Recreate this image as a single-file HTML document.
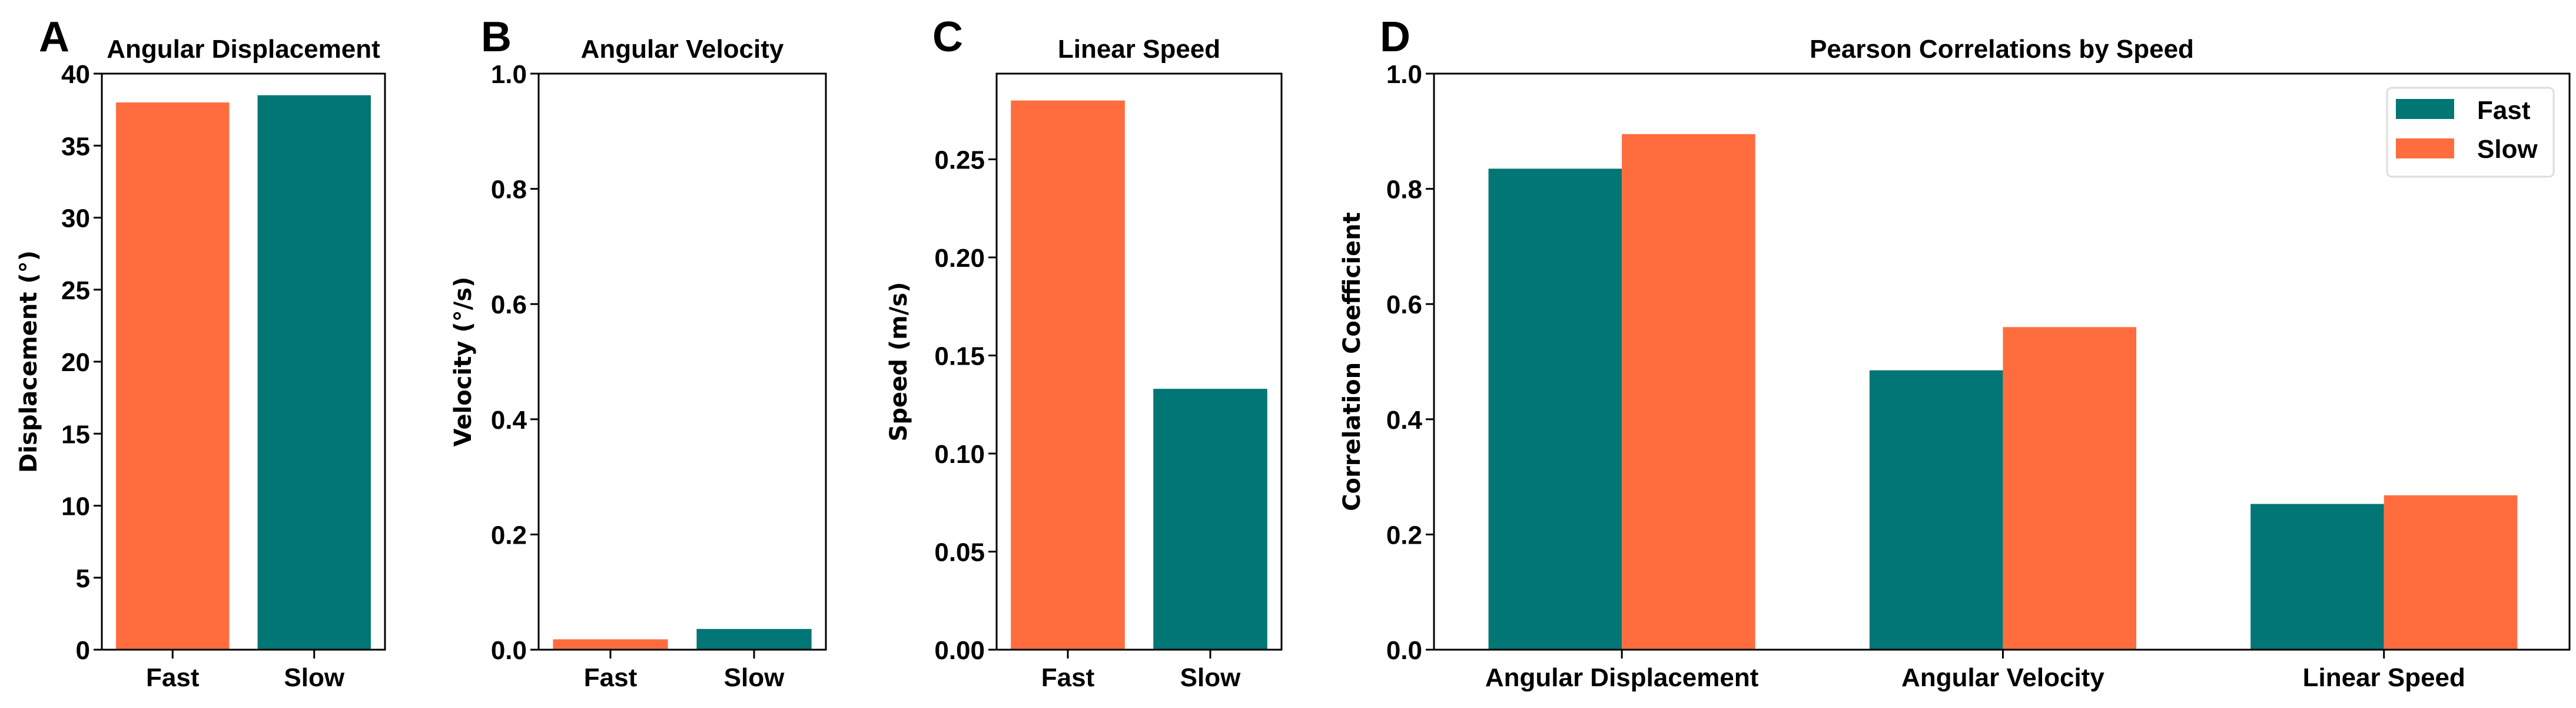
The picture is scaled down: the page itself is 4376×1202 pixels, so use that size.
<!DOCTYPE html>
<html><head><meta charset="utf-8"><style>
html,body{margin:0;padding:0;background:#fff;}
svg{display:block;}
text{font-family:"Liberation Sans",Arial,sans-serif;font-weight:bold;fill:#000;}
.yl{font-family:"DejaVu Sans","Liberation Sans",sans-serif;}
</style></head><body>
<svg id="fig" width="4376" height="1202" viewBox="0 0 4376 1202" xmlns="http://www.w3.org/2000/svg"></svg>
<script>
const ORANGE = "#FF6D3F", TEAL = "#027674";
// Panel A
const aCats = ["Fast","Slow"];
const aVals = [38.0, 38.5];
const aTicks = [0,5,10,15,20,25,30,35,40];
// Panel B
const bCats = ["Fast","Slow"];
const bVals = [0.018, 0.036];
const bTicks = [0,0.2,0.4,0.6,0.8,1.0];
const bTickLabels = ["0.0","0.2","0.4","0.6","0.8","1.0"];
// Panel C
const cCats = ["Fast","Slow"];
const cVals = [0.280, 0.133];
const cTicks = [0,0.05,0.10,0.15,0.20,0.25];
const cTickLabels = ["0.00","0.05","0.10","0.15","0.20","0.25"];
// Panel D
const dCats = ["Angular Displacement","Angular Velocity","Linear Speed"];
const dFast = [0.835, 0.485, 0.253];
const dSlow = [0.895, 0.560, 0.268];
const dTicks = [0,0.2,0.4,0.6,0.8,1.0];
const dTickLabels = ["0.0","0.2","0.4","0.6","0.8","1.0"];

const svg = document.getElementById('fig');
const NS = "http://www.w3.org/2000/svg";
function mk(tag, attrs, parent){
  const e = document.createElementNS(NS, tag);
  for (const k in attrs) e.setAttribute(k, attrs[k]);
  (parent||svg).appendChild(e); return e;
}
const TOP=125, BOT=1103;

function panel(o){
  const g = mk('g',{});
  
  
  const xs = v => o.L + (v - o.xmin)/(o.xmax - o.xmin)*(o.R - o.L);
  const ys = v => BOT - (v - o.ymin)/(o.ymax - o.ymin)*(BOT - TOP);
  // bars
  o.series.forEach(s=>{
    s.vals.forEach((v,i)=>{
      const x0 = xs(i + s.off - o.bw/2), x1 = xs(i + s.off + o.bw/2);
      const r = mk('rect',{x:x0,y:ys(v),width:x1-x0,height:ys(0)-ys(v),fill:s.colors[i]},g);
      
      
    });
  });
  // frame
  const f = mk('rect',{x:o.L,y:TOP,width:o.R-o.L,height:BOT-TOP,fill:'none',stroke:'#000','stroke-width':3},g);
  
  
  // y ticks
  o.yt.forEach((t,i)=>{
    const y = ys(t);
    mk('line',{x1:o.L-14,x2:o.L,y1:y,y2:y,stroke:'#000','stroke-width':3},g);
    const tx = mk('text',{x:o.L-20,y:y+16,'text-anchor':'end','font-size':44},g);
    tx.textContent = o.ytl ? o.ytl[i] : String(t);
    
    
  });
  // x ticks
  o.cats.forEach((c,i)=>{
    const x = xs(i);
    mk('line',{x1:x,x2:x,y1:BOT,y2:BOT+15,stroke:'#000','stroke-width':3},g);
    const tx = mk('text',{x:x,y:1165,'text-anchor':'middle','font-size':44},g);
    tx.textContent = c;
    
    
  });
  // title
  const ti = mk('text',{x:(o.L+o.R)/2,y:98,'text-anchor':'middle','font-size':44},g);
  ti.textContent = o.title;
  
  
  // letter
  const le = mk('text',{x:o.lx,y:87,'text-anchor':'middle','font-size':72},g);
  le.textContent = o.letter;
  
  
  // ylabel
  const yc = (TOP+BOT)/2;
  const yl = mk('text',{x:o.ylx,y:yc,'text-anchor':'middle','font-size':40,class:'yl',transform:'rotate(-90 '+o.ylx+' '+yc+')'},g);
  yl.textContent = o.ylabel;
  
  
  return {xs,ys,g};
}

panel({name:'panel-a',L:173,R:654,xmin:-0.5,xmax:1.5,ymin:0,ymax:40,bw:0.8,cats:aCats,yt:aTicks,
  series:[{key:'a',off:0,vals:aVals,colors:[ORANGE,TEAL]}],title:'Angular Displacement',letter:'A',lx:92,ylabel:'Displacement (°)',ylx:62});
panel({name:'panel-b',L:915,R:1403,xmin:-0.5,xmax:1.5,ymin:0,ymax:1.0,bw:0.8,cats:bCats,yt:bTicks,ytl:bTickLabels,
  series:[{key:'b',off:0,vals:bVals,colors:[ORANGE,TEAL]}],title:'Angular Velocity',letter:'B',lx:843,ylabel:'Velocity (°/s)',ylx:800});
panel({name:'panel-c',L:1693,R:2177,xmin:-0.5,xmax:1.5,ymin:0,ymax:0.2937,bw:0.8,cats:cCats,yt:cTicks,ytl:cTickLabels,
  series:[{key:'c',off:0,vals:cVals,colors:[ORANGE,TEAL]}],title:'Linear Speed',letter:'C',lx:1610,ylabel:'Speed (m/s)',ylx:1540});
panel({name:'panel-d',L:2436,R:4365,xmin:-0.493,xmax:2.487,ymin:0,ymax:1.0,bw:0.35,cats:dCats,yt:dTicks,ytl:dTickLabels,
  series:[{key:'fast',off:-0.175,vals:dFast,colors:[TEAL,TEAL,TEAL]},{key:'slow',off:0.175,vals:dSlow,colors:[ORANGE,ORANGE,ORANGE]}],
  title:'Pearson Correlations by Speed',letter:'D',lx:2370,ylabel:'Correlation Coefficient',ylx:2310});

// legend
const lg = mk('g',{});


mk('rect',{x:4055,y:149,width:283,height:151,rx:8,fill:'#fff',stroke:'#dddddd','stroke-width':3},lg);
const e1 = mk('rect',{x:4070,y:168,width:99,height:34,fill:TEAL},lg);


const t1 = mk('text',{x:4208,y:202,'font-size':44},lg); t1.textContent='Fast';


const e2 = mk('rect',{x:4070,y:235,width:99,height:34,fill:ORANGE},lg);


const t2 = mk('text',{x:4208,y:268,'font-size':44},lg); t2.textContent='Slow';


</script>
</body></html>
